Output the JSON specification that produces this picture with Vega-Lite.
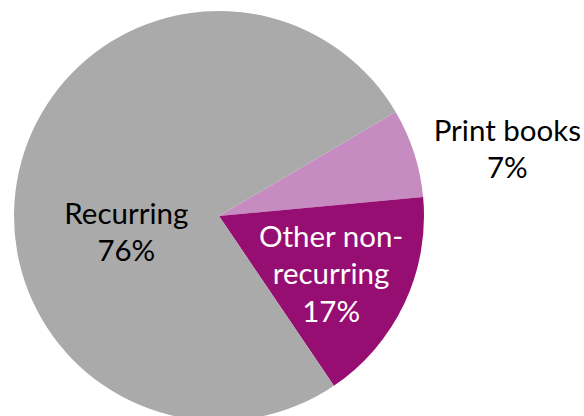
{
  "$schema": "https://vega.github.io/schema/vega-lite/v6.json",
  "width": 438,
  "height": 432,
  "autosize": "none",
  "padding": {"left": 0, "top": 0, "right": 146, "bottom": 0},
  "background": "white",
  "view": {"stroke": null},
  "data": {
    "values": [
      {"category": "Print books", "value": 7, "order": 1, "label": "Print books\n7%"},
      {"category": "Other non-recurring", "value": 17, "order": 2, "label": "Other non-\nrecurring\n17%"},
      {"category": "Recurring", "value": 76, "order": 3, "label": "Recurring\n76%"}
    ]
  },
  "encoding": {
    "theta": {"field": "value", "type": "quantitative", "stack": true, "scale": {"range": [1.0385, 7.3217]}},
    "order": {"field": "order", "type": "quantitative"}
  },
  "layer": [
    {
      "mark": {"type": "arc", "outerRadius": 205},
      "encoding": {
        "color": {
          "field": "category",
          "type": "nominal",
          "scale": {"domain": ["Print books", "Other non-recurring", "Recurring"], "range": ["#C68BC0", "#970E72", "#AAAAAA"]},
          "legend": null
        }
      }
    },
    {
      "mark": {"type": "text", "radius": 303, "dy": 9, "font": "Lato", "fontSize": 29.5, "lineHeight": 37, "lineBreak": "\n", "align": "center", "baseline": "middle", "color": "black"},
      "encoding": {"text": {"condition": {"test": "datum.category === 'Print books'", "field": "label"}, "value": ""}}
    },
    {
      "mark": {"type": "text", "radius": 124, "dy": -31, "font": "Lato", "fontSize": 29.5, "lineHeight": 37.5, "lineBreak": "\n", "align": "center", "baseline": "middle", "color": "white"},
      "encoding": {"text": {"condition": {"test": "datum.category === 'Other non-recurring'", "field": "label"}, "value": ""}}
    },
    {
      "mark": {"type": "text", "radius": 95, "dy": 20, "font": "Lato", "fontSize": 29.5, "lineHeight": 37, "lineBreak": "\n", "align": "center", "baseline": "middle", "color": "black"},
      "encoding": {"text": {"condition": {"test": "datum.category === 'Recurring'", "field": "label"}, "value": ""}}
    }
  ]
}
